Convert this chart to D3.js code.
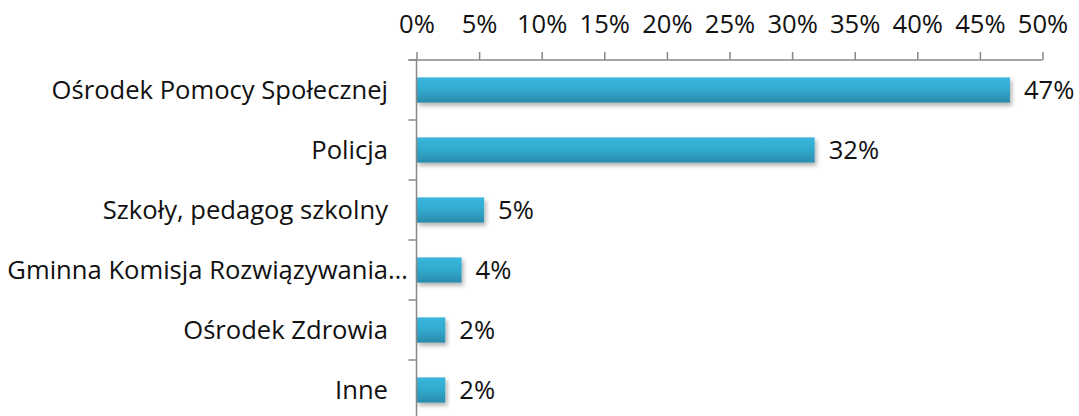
<!DOCTYPE html>
<html>
<head>
<meta charset="utf-8">
<script src="https://cdn.jsdelivr.net/npm/d3@7"></script>
<style>
  body { margin: 0; background: #fff; }
  text { font-family: "Open Sans", sans-serif; fill: #111; }
</style>
</head>
<body>
<svg id="chart"></svg>
<script>
// categories, top to bottom
const categories = [
  "Ośrodek Pomocy Społecznej",
  "Policja",
  "Szkoły, pedagog szkolny",
  "Gminna Komisja Rozwiązywania…",
  "Ośrodek Zdrowia",
  "Inne"
];
// share of answers, in percent
const values = [47.4, 31.8, 5.4, 3.6, 2.3, 2.3];
const ticks = [0, 5, 10, 15, 20, 25, 30, 35, 40, 45, 50];

const W = 1079, H = 416;
const FS = "25.6px";
const svg = d3.select("#chart").attr("width", W).attr("height", H);

const x = d3.scaleLinear().domain([0, 50]).range([416.5, 1042.5]);
const y = d3.scaleBand().domain(categories).range([60, 420])
  .paddingInner(0.58).paddingOuter(0.29);

const defs = svg.append("defs");
const grad = defs.append("linearGradient").attr("id", "barGrad")
  .attr("x1", 0).attr("y1", 0).attr("x2", 0).attr("y2", 1);
grad.append("stop").attr("offset", "0%").attr("stop-color", "#38b6dc");
grad.append("stop").attr("offset", "45%").attr("stop-color", "#33abd0");
grad.append("stop").attr("offset", "100%").attr("stop-color", "#2a8cab");

const shadow = defs.append("filter").attr("id", "shadow")
  .attr("x", "-5%").attr("y", "-30%").attr("width", "120%").attr("height", "180%");
shadow.append("feDropShadow").attr("dx", 2).attr("dy", 3).attr("stdDeviation", 2)
  .attr("flood-color", "#000").attr("flood-opacity", 0.3);

// bars
svg.selectAll(".bar")
  .data(values)
  .enter().append("rect")
  .attr("class", "bar")
  .attr("x", x(0))
  .attr("y", (d, i) => y(categories[i]))
  .attr("width", d => x(d) - x(0))
  .attr("height", y.bandwidth())
  .attr("fill", "url(#barGrad)")
  .attr("filter", "url(#shadow)");

// value labels
svg.selectAll(".val")
  .data(values)
  .enter().append("text")
  .attr("class", "val")
  .attr("x", d => x(d) + 14)
  .attr("y", (d, i) => y(categories[i]) + y.bandwidth() / 2)
  .attr("dy", "0.36em")
  .style("font-size", FS)
  .text(d => Math.round(d) + "%");

// top axis
const xAxis = svg.append("g").attr("transform", "translate(0,60)")
  .call(d3.axisTop(x).tickValues(ticks).tickFormat(d => d + "%").tickSize(8).tickPadding(19));
xAxis.select(".domain").attr("stroke", "#888").attr("stroke-width", 1.5)
  .attr("d", `M${x(0) - 8},0H${x(50)}`);
xAxis.selectAll(".tick line").attr("stroke", "#888").attr("stroke-width", 1.5);
xAxis.selectAll(".tick text").style("font-size", FS).attr("fill", "#111")
  .style("font-family", "'Open Sans', sans-serif");

// left axis
const boundaries = d3.range(categories.length + 1).map(i => 60 + i * y.step());
const yAxis = svg.append("g");
yAxis.append("line").attr("x1", x(0)).attr("x2", x(0)).attr("y1", 60).attr("y2", 420)
  .attr("stroke", "#888").attr("stroke-width", 1.5);
yAxis.selectAll(".ytick").data(boundaries).enter().append("line")
  .attr("x1", x(0) - 8).attr("x2", x(0))
  .attr("y1", d => d).attr("y2", d => d)
  .attr("stroke", "#888").attr("stroke-width", 1.5);
yAxis.selectAll(".ylabel").data(categories).enter().append("text")
  .attr("x", d => d.endsWith("…") ? 408 : 388)
  .attr("y", d => y(d) + y.bandwidth() / 2)
  .attr("dy", "0.36em")
  .attr("text-anchor", "end")
  .style("font-size", FS)
  .text(d => d);
</script>
</body>
</html>
